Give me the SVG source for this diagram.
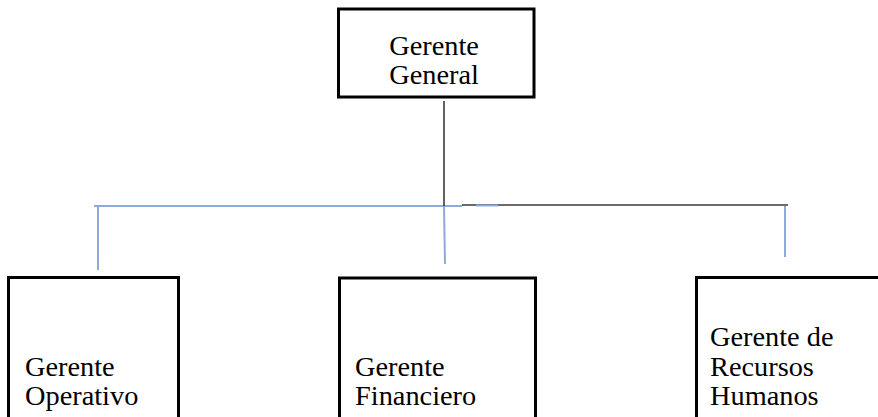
<svg xmlns="http://www.w3.org/2000/svg" width="878" height="417" viewBox="0 0 878 417">
<style>
.box{fill:#fff;stroke:#000;stroke-width:3}
.t{font-family:"Liberation Serif","Times New Roman",serif;font-size:27px;fill:#000}
.blue{stroke:#8eaadb;stroke-width:2;fill:none}
.dark{stroke:#3a3a3a;stroke-width:1.6;fill:none}
</style>
<rect width="878" height="417" fill="#fff"/>
<g id="connectors">
<line class="blue" x1="94" y1="206" x2="462" y2="206"/>
<line class="dark" x1="462" y1="205" x2="788" y2="205"/>
<line class="blue" x1="476" y1="205.5" x2="498" y2="205.5"/>
<line class="dark" x1="444" y1="101" x2="444" y2="206"/>
<line class="blue" x1="98" y1="207" x2="98" y2="270"/>
<line class="blue" x1="444" y1="207" x2="445" y2="264"/>
<line class="blue" x1="785" y1="206" x2="785" y2="257"/>
</g>
<g id="gerente-general">
<rect class="box" x="338.5" y="9" width="195.5" height="88"/>
<text class="t" transform="translate(434 0) scale(1.05 1)" text-anchor="middle"><tspan x="0" y="55">Gerente</tspan><tspan x="0" y="84">General</tspan></text>
</g>
<g id="gerente-operativo">
<rect class="box" x="8.5" y="277.5" width="170" height="150"/>
<text class="t" transform="translate(25 0) scale(1.05 1)"><tspan x="0" y="376">Gerente</tspan><tspan x="0" y="405">Operativo</tspan></text>
</g>
<g id="gerente-financiero">
<rect class="box" x="339.5" y="278" width="196" height="150"/>
<text class="t" transform="translate(355 0) scale(1.05 1)"><tspan x="0" y="376">Gerente</tspan><tspan x="0" y="405">Financiero</tspan></text>
</g>
<g id="gerente-rrhh">
<rect class="box" x="696.5" y="277.5" width="200" height="150"/>
<text class="t" transform="translate(710 0) scale(1.05 1)"><tspan x="0" y="346">Gerente de</tspan><tspan x="0" y="376">Recursos</tspan><tspan x="0" y="405">Humanos</tspan></text>
</g>
</svg>
